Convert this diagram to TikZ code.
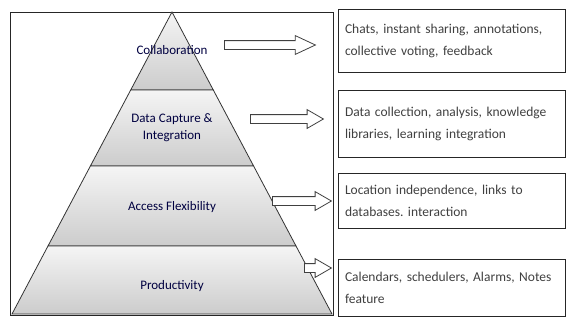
\documentclass[tikz,border=0pt]{standalone}
\usepackage{fontspec}
\setmainfont{Carlito}
\usetikzlibrary{shapes.arrows}
\frenchspacing

\tikzset{
  layer/.style={draw=black!80, line width=0.8pt, top color=gray!8, bottom color=gray!40},
  layertext/.style={text=blue!25!black, font=\fontsize{13}{17}\selectfont, align=center},
  infobox/.style={draw=black!85, line width=0.9pt, text width=213pt, inner xsep=7pt, align=left, text=black!75, font=\fontsize{13.5}{22}\selectfont},
  blockarrow/.style={single arrow, draw=black!75, fill=white, line width=0.8pt, inner sep=4pt, minimum width=18pt, single arrow head extend=5pt, single arrow tip angle=60, anchor=tail}
}

\begin{document}
\begin{tikzpicture}[x=1pt,y=-1pt]
	\useasboundingbox (0,0) rectangle (566,325);

	\draw[draw=black!85, line width=0.9pt] (10,12) rectangle (333,315);

	\coordinate (apex) at (172,12);
	\coordinate (l1) at (130.7,90);  \coordinate (r1) at (213.3,90);
	\coordinate (l2) at (90.4,166);  \coordinate (r2) at (253.6,166);
	\coordinate (l3) at (48,246);    \coordinate (r3) at (296,246);
	\coordinate (l4) at (12,314);    \coordinate (r4) at (332,314);

	\path[layer] (apex) -- (r1) -- (l1) -- cycle;
	\path[layer] (l1) -- (r1) -- (r2) -- (l2) -- cycle;
	\path[layer] (l2) -- (r2) -- (r3) -- (l3) -- cycle;
	\path[layer] (l3) -- (r3) -- (r4) -- (l4) -- cycle;

	\node[layertext] (collab)  at (172,50)  {Collaboration};
	\node[layertext] (capture) at (172,128) {Data Capture \&\\Integration};
	\node[layertext] (access)  at (172,207) {Access Flexibility};
	\node[layertext] (prod)    at (172,286) {Productivity};

	\node[infobox, minimum height=63pt] (chats)    at (451.5,40.5)  {Chats, instant sharing, annotations,\\collective voting, feedback};
	\node[infobox, minimum height=67pt] (datacoll) at (451.5,123.5) {Data collection, analysis, knowledge\\libraries, learning integration};
	\node[infobox, minimum height=55pt] (location) at (451.5,200.5) {Location independence, links to\\databases. interaction};
	\node[infobox, minimum height=57pt] (calendar) at (451.5,287.5) {Calendars, schedulers, Alarms, Notes\\feature};

	\node[blockarrow, minimum height=91pt, single arrow tip angle=50] (arrA) at (224,45)  {};
	\node[blockarrow, minimum height=73pt] (arrB) at (250,119) {};
	\node[blockarrow, minimum height=59pt] (arrC) at (272,201) {};
	\node[blockarrow, minimum height=27pt] (arrD) at (304,268) {};

\end{tikzpicture}
\end{document}
